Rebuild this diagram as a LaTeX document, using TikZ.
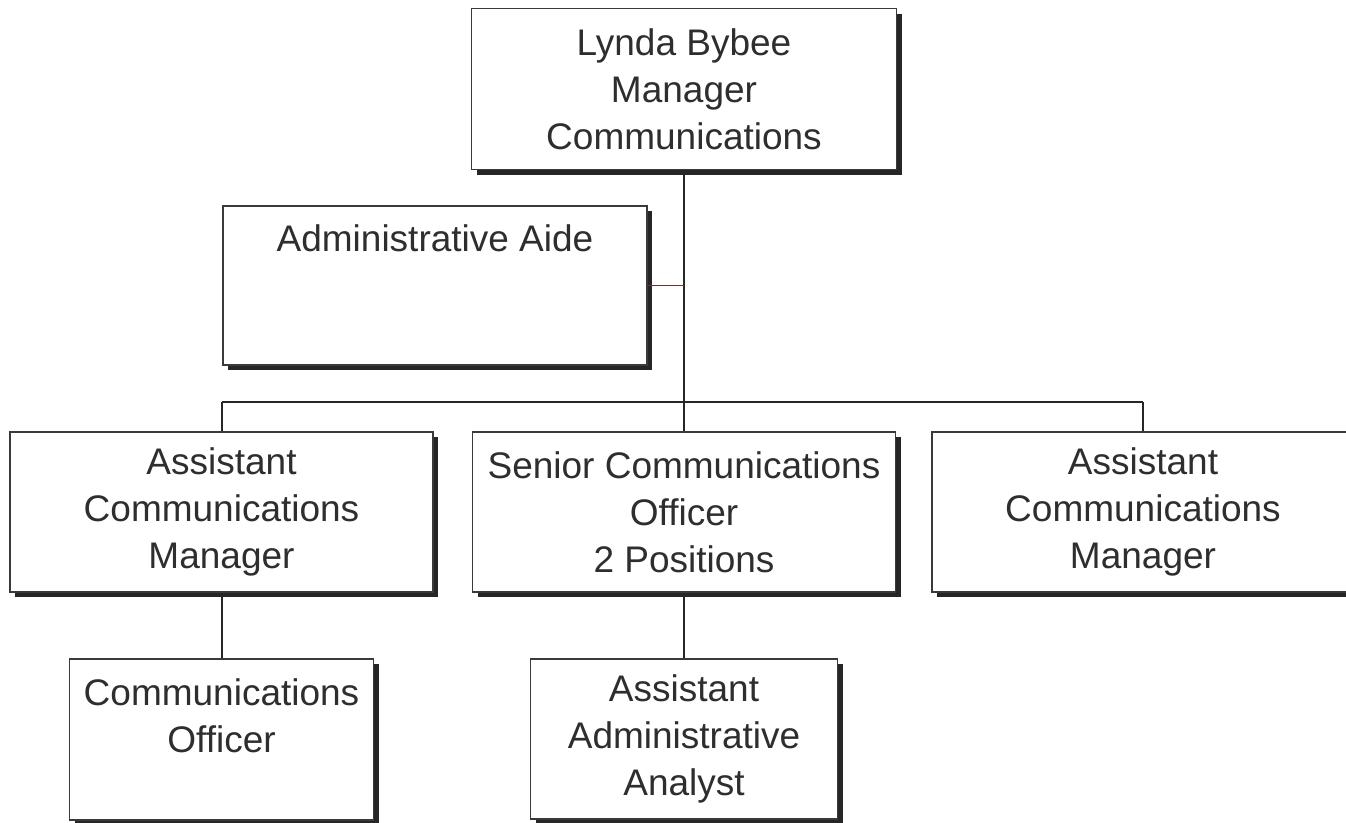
\documentclass[tikz,border=0pt]{standalone}
\usepackage{fontspec}
\setmainfont{Liberation Sans}
\usetikzlibrary{shadows}
\definecolor{txt}{HTML}{2E2E2E}
\definecolor{edge}{HTML}{3A3A3A}
\definecolor{aideline}{RGB}{110,50,40}
\tikzset{
  box/.style={draw=edge, line width=1.6pt, fill=white, rectangle, inner sep=0pt,
    align=center, text=txt, font=\fontsize{37}{47}\selectfont,
    drop shadow={shadow xshift=5pt, shadow yshift=-5pt, fill=black!85, opacity=1}},
  link/.style={draw=black!85, line width=2pt}
}
\begin{document}
\begin{tikzpicture}[x=1pt,y=-1pt]
\useasboundingbox (0,0) rectangle (1346,822);
\node[box, minimum width=425pt, minimum height=161pt] (top) at (684,89) {Lynda Bybee\\Manager\\Communications};
\node[box, minimum width=424pt, minimum height=159pt] (aide) at (435,285.5) {Administrative Aide\\\mbox{}\\\mbox{}};
\node[box, minimum width=423pt, minimum height=160pt] (acm1) at (221.5,512) {Assistant\\Communications\\Manager};
\node[box, minimum width=423pt, minimum height=160pt] (sco) at (684,512) {Senior Communications\\Officer\\2 Positions};
\node[box, minimum width=422pt, minimum height=160pt] (acm2) at (1143,512) {Assistant\\Communications\\Manager};
\node[box, minimum width=304pt, minimum height=161pt] (co) at (221.5,739.5) {Communications\\Officer\\\mbox{}};
\node[box, minimum width=307pt, minimum height=160pt] (aaa) at (684,739) {Assistant\\Administrative\\Analyst};
\coordinate (busL) at (221.5,402);
\coordinate (busR) at (1143,402);
\draw[link] (top.south) -- (sco.north);
\draw[link] (busL) -- (busR);
\draw[link] (busL) -- (acm1.north);
\draw[link] (busR) -- (acm2.north);
\draw[draw=aideline, line width=1.4pt] (aide.east) -- (aide.east -| top.south);
\draw[link] (acm1.south) -- (co.north);
\draw[link] (sco.south) -- (aaa.north);
\end{tikzpicture}
\end{document}
